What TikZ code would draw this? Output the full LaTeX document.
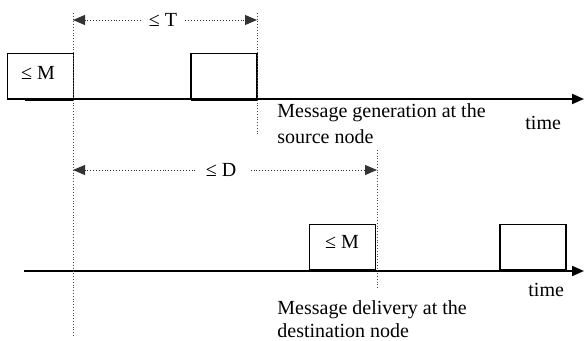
\documentclass[tikz,border=0pt]{standalone}
\usepackage{fontspec}
\setmainfont{Liberation Serif}
\usetikzlibrary{arrows.meta}
\begin{document}
\begin{tikzpicture}[x=0.5pt,y=-0.5pt,
  axis/.style={line width=1pt,-{Triangle[length=6pt,width=5pt]}},
  msgbox/.style={draw,line width=0.8pt,rectangle,inner sep=0pt,outer sep=0pt,
    minimum width=33pt,minimum height=23pt},
  boxbase/.style={line width=1.8pt},
  guide/.style={densely dotted,line width=0.4pt,black!70},
  dim/.style={densely dotted,line width=0.45pt,black!80,-{Triangle[length=6pt,width=5pt]}},
  lbl/.style={font=\fontsize{10}{12}\selectfont,inner sep=0pt,anchor=west,align=left},
  dimlbl/.style={font=\fontsize{10}{12}\selectfont,inner sep=1pt}]
\useasboundingbox (0,0) rectangle (584,341);

% top timeline
\coordinate (ta) at (8,99);
\coordinate (tb) at (584,99);
\draw[axis] (ta) -- (tb);
\node[msgbox] (b1) at (40.5,76.5) {};
\node[dimlbl] (b1t) at (38,73) {≤ M};
\node[msgbox] (b2) at (224,76.5) {};
\draw[boxbase] (25,99.5) coordinate (b1l) -- (b1.south east);
\draw[boxbase] (b2.south west) -- (b2.south east);

% bottom timeline
\coordinate (ba) at (24,271);
\coordinate (bb) at (584,271);
\draw[axis] (ba) -- (bb);
\node[msgbox] (b3) at (342.5,247.5) {};
\node[dimlbl] (b3t) at (342,242) {≤ M};
\node[msgbox] (b4) at (533,247.5) {};
\draw[boxbase] (b3.south west) -- (b3.south east);
\draw[boxbase] (b4.south west) -- (b4.south east);

% guide lines
\coordinate (g1t) at (73,13);
\coordinate (g1b) at (73,336);
\coordinate (g2t) at (257,13);
\coordinate (g2b) at (257,134);
\coordinate (g3t) at (377,150);
\coordinate (g3b) at (377,288);
\draw[guide] (g1t) -- (g1b);
\draw[guide] (g2t) -- (g2b);
\draw[guide] (g3t) -- (g3b);

% T dimension
\node[dimlbl] (Tl) at (163,20) {≤ T};
\coordinate (Ta) at (73,20);
\coordinate (Tb) at (257,20);
\draw[dim] ([xshift=-3pt]Tl.west) -- (Ta);
\draw[dim] ([xshift=3pt]Tl.east) -- (Tb);

% D dimension
\node[dimlbl] (Dl) at (221,170) {≤ D};
\coordinate (Da) at (73,170);
\coordinate (Db) at (377,170);
\draw[dim] ([xshift=-4pt]Dl.west) -- (Da);
\draw[dim] ([xshift=6pt]Dl.east) -- (Db);

% texts
\node[lbl] (gen1) at (277,113) {Message generation at the};
\node[lbl] (gen2) at (277,137) {source node};
\node[lbl] (time1) at (525,123) {time};
\node[lbl] (del1) at (277,310) {Message delivery at the};
\node[lbl] (del2) at (277,331) {destination node};
\node[lbl] (time2) at (528,290) {time};
\end{tikzpicture}
\end{document}
